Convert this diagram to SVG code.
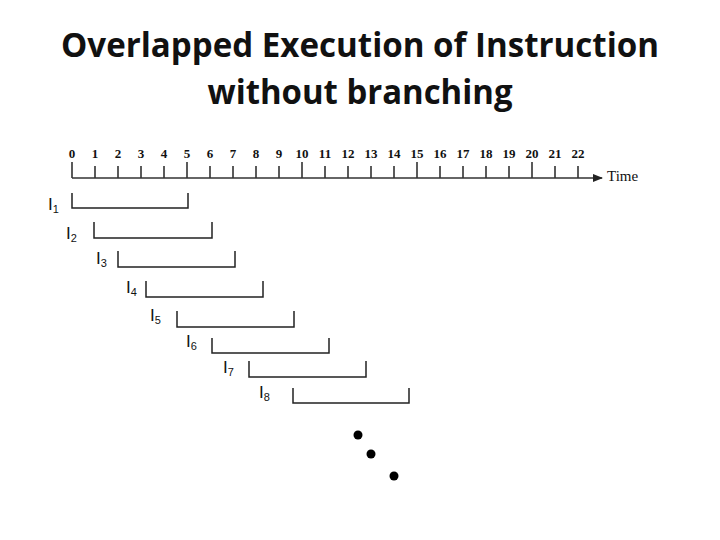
<svg xmlns="http://www.w3.org/2000/svg" width="720" height="540" viewBox="0 0 720 540">
<style>
.title{font-family:"Open Sans","Liberation Sans",Arial,sans-serif;font-weight:bold;font-size:34px;fill:#111;}
.num{font-family:"Liberation Serif","Times New Roman",serif;font-weight:bold;font-size:13px;fill:#111;text-anchor:middle;}
.tm{font-family:"Liberation Serif","Times New Roman",serif;font-size:15px;fill:#111;}
.lbl{font-family:"Liberation Sans",Arial,sans-serif;font-size:17px;fill:#111;}
.sub{font-size:11px;}
.ax{stroke:#333;stroke-width:1.6;fill:none;}
.bar{stroke:#222;stroke-width:1.5;fill:none;}
</style>
<defs>
<marker id="arr" markerWidth="10" markerHeight="8" refX="9" refY="4" orient="auto" markerUnits="userSpaceOnUse">
<path d="M0,0 L10,4 L0,8 z" fill="#222"/>
</marker>
</defs>
<rect width="720" height="540" fill="#fff"/>
<text class="title" x="360" y="57" text-anchor="middle" textLength="598" lengthAdjust="spacingAndGlyphs">Overlapped Execution of Instruction</text>
<text class="title" x="360" y="104" text-anchor="middle" textLength="305" lengthAdjust="spacingAndGlyphs">without branching</text>
<g id="axis">
<line class="ax" x1="72" y1="178" x2="602" y2="178" marker-end="url(#arr)"/>
<path class="ax" d="M72,162V178 M95,166V178 M118,166V178 M141,166V178 M164,166V178 M187,162V178 M210,166V178 M233,166V178 M256,166V178 M279,166V178 M302,162V178 M325,166V178 M348,166V178 M371,166V178 M394,166V178 M417,162V178 M440,166V178 M463,166V178 M486,166V178 M509,166V178 M532,162V178 M555,166V178 M578,166V178"/>
<g class="num">
<text x="72" y="158">0</text><text x="95" y="158">1</text><text x="118" y="158">2</text><text x="141" y="158">3</text><text x="164" y="158">4</text><text x="187" y="158">5</text><text x="210" y="158">6</text><text x="233" y="158">7</text><text x="256" y="158">8</text><text x="279" y="158">9</text><text x="302" y="158">10</text><text x="325" y="158">11</text><text x="348" y="158">12</text><text x="371" y="158">13</text><text x="394" y="158">14</text><text x="417" y="158">15</text><text x="440" y="158">16</text><text x="463" y="158">17</text><text x="486" y="158">18</text><text x="509" y="158">19</text><text x="532" y="158">20</text><text x="555" y="158">21</text><text x="578" y="158">22</text>
</g>
<text class="tm" x="607" y="181">Time</text>
</g>
<g id="I1"><path class="bar" d="M72,193V208H188V193"/><text class="lbl" x="48" y="210">I<tspan class="sub" dy="3">1</tspan></text></g>
<g id="I2"><path class="bar" d="M94,222V238H212V222"/><text class="lbl" x="66" y="239">I<tspan class="sub" dy="3">2</tspan></text></g>
<g id="I3"><path class="bar" d="M118,251V267H235V251"/><text class="lbl" x="96" y="264">I<tspan class="sub" dy="3">3</tspan></text></g>
<g id="I4"><path class="bar" d="M146,281V297H263V281"/><text class="lbl" x="126" y="293">I<tspan class="sub" dy="3">4</tspan></text></g>
<g id="I5"><path class="bar" d="M177,311V327H294V311"/><text class="lbl" x="150" y="321">I<tspan class="sub" dy="3">5</tspan></text></g>
<g id="I6"><path class="bar" d="M212,338V353H329V338"/><text class="lbl" x="186" y="347">I<tspan class="sub" dy="3">6</tspan></text></g>
<g id="I7"><path class="bar" d="M249,361V377H366V361"/><text class="lbl" x="223" y="373">I<tspan class="sub" dy="3">7</tspan></text></g>
<g id="I8"><path class="bar" d="M293,388V403H409V388"/><text class="lbl" x="259" y="398">I<tspan class="sub" dy="3">8</tspan></text></g>
<g id="dots" fill="#000">
<circle cx="358" cy="435" r="4.5"/><circle cx="371" cy="454" r="4.5"/><circle cx="394" cy="476" r="4.5"/>
</g>
</svg>
